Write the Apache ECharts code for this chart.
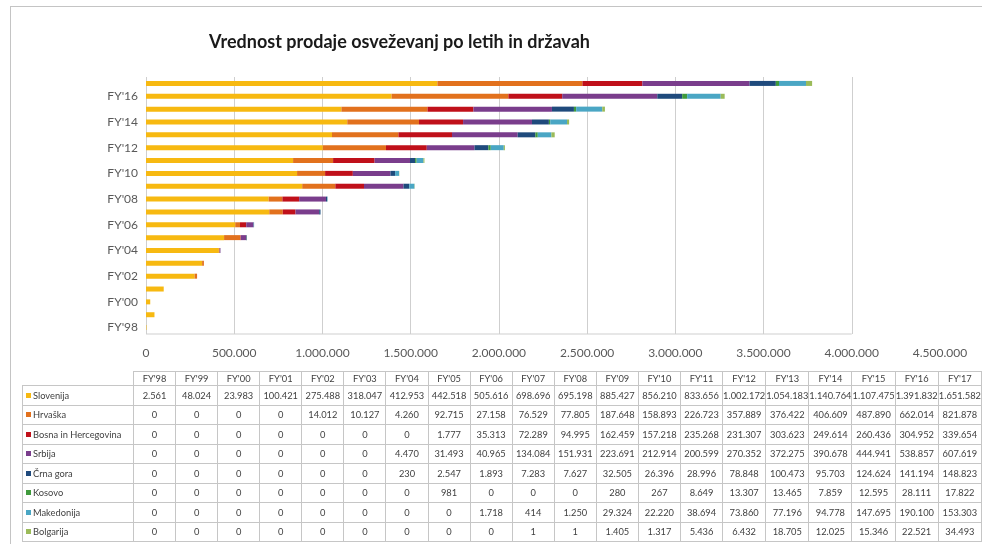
<!DOCTYPE html>
<html>
<head>
<meta charset="utf-8">
<script src="https://cdn.jsdelivr.net/npm/echarts@6.0.0/dist/echarts.min.js"></script>
<style>
	* {
		margin: 0;
		padding: 0;
	}
	body {
		width: 982px;
		height: 544px;
		overflow: hidden;
		background: #fff;
		font-family: Lato, "Liberation Sans", sans-serif;
	}
	.frame {
		position: absolute;
		left: 10px;
		top: 6px;
		width: 1000px;
		height: 600px;
		border: 1px solid #c4c4c4;
	}
	#main {
		position: absolute;
		left: 0;
		top: 0;
		width: 982px;
		height: 544px;
	}
	#tbl {
		position: absolute;
		left: 22px;
		top: 371px;
		border-collapse: collapse;
		table-layout: fixed;
		font-size: 9.3px;
		color: #404040;
	}
	#tbl td {
		border: 1px solid #c6c6c6;
		height: 18.5px;
		text-align: center;
		white-space: nowrap;
		overflow: hidden;
		text-overflow: clip;
	}
	#tbl tr.head td {
		height: 13px;
	}
	#tbl td.name {
		text-align: left;
		padding-left: 3px;
	}
	#tbl td.blank {
		border: none;
	}
	.key {
		display: inline-block;
		width: 5px;
		height: 5px;
		margin-right: 2px;
		vertical-align: 1px;
	}
</style>
</head>
<body>
<div class="frame"></div>
<div id="main"></div>
<table id="tbl"></table>
<script>
	// leta (kategorije)
	var years = ["FY'98", "FY'99", "FY'00", "FY'01", "FY'02", "FY'03", "FY'04", "FY'05", "FY'06", "FY'07",
		"FY'08", "FY'09", "FY'10", "FY'11", "FY'12", "FY'13", "FY'14", "FY'15", "FY'16", "FY'17"];

	var countries = ['Slovenija', 'Hrvaška', 'Bosna in Hercegovina', 'Srbija', 'Črna gora', 'Kosovo', 'Makedonija', 'Bolgarija'];
	var colors = ['#f7b911', '#e2711d', '#c0101a', '#7a3d8c', '#1f4a7c', '#3f9a3c', '#4aa6c4', '#9bbb59'];

	var slovenija = [2561, 48024, 23983, 100421, 275488, 318047, 412953, 442518, 505616, 698696,
		695198, 885427, 856210, 833656, 1002172, 1054183, 1140764, 1107475, 1391832, 1651582];
	var hrvaska = [0, 0, 0, 0, 14012, 10127, 4260, 92715, 27158, 76529,
		77805, 187648, 158893, 226723, 357889, 376422, 406609, 487890, 662014, 821878];
	var bosna = [0, 0, 0, 0, 0, 0, 0, 1777, 35313, 72289,
		94995, 162459, 157218, 235268, 231307, 303623, 249614, 260436, 304952, 339654];
	var srbija = [0, 0, 0, 0, 0, 0, 4470, 31493, 40965, 134084,
		151931, 223691, 212914, 200599, 270352, 372275, 390678, 444941, 538857, 607619];
	var crnaGora = [0, 0, 0, 0, 0, 0, 230, 2547, 1893, 7283,
		7627, 32505, 26396, 28996, 78848, 100473, 95703, 124624, 141194, 148823];
	var kosovo = [0, 0, 0, 0, 0, 0, 0, 981, 0, 0,
		0, 280, 267, 8649, 13307, 13465, 7859, 12595, 28111, 17822];
	var makedonija = [0, 0, 0, 0, 0, 0, 0, 0, 1718, 414,
		1250, 29324, 22220, 38694, 73860, 77196, 94778, 147695, 190100, 153303];
	var bolgarija = [0, 0, 0, 0, 0, 0, 0, 0, 0, 1,
		1, 1405, 1317, 5436, 6432, 18705, 12025, 15346, 22521, 34493];

	var values = [slovenija, hrvaska, bosna, srbija, crnaGora, kosovo, makedonija, bolgarija];

	var axisMax = 4500000;
	var axisStep = 500000;
	var frameMax = 4000000; // okvir risalne ploskve se konča pri 4 mio

	function fmt(v) {
		return String(v).replace(/\B(?=(\d{3})+(?!\d))/g, '.');
	}

	var series = [];
	countries.forEach(function(name, i) {
		series.push({
			name: name,
			type: 'bar',
			stack: 'skupaj',
			barWidth: 5,
			itemStyle: { color: colors[i] },
			data: values[i]
		});
	});

	var chart = echarts.init(document.getElementById('main'));
	chart.setOption({
		animation: false,
		title: {
			text: 'Vrednost prodaje osveževanj po letih in državah',
			left: 204,
			top: 28,
			textStyle: {
				fontFamily: 'Lato',
				fontWeight: 'bold',
				fontSize: 18,
				color: '#1a1a1a'
			}
		},
		grid: {
			left: 146,
			right: 42,
			top: 77,
			bottom: 210
		},
		xAxis: {
			type: 'value',
			min: 0,
			max: axisMax,
			interval: axisStep,
			axisLine: { show: false },
			axisTick: { show: false },
			axisLabel: {
				margin: 13,
				fontFamily: 'Lato',
				fontSize: 12,
				color: '#595959',
				formatter: function(v) { return fmt(v); }
			},
			splitLine: {
				show: true,
				showMaxLine: false,
				lineStyle: { color: '#cfcfcf', width: 1 }
			}
		},
		yAxis: {
			type: 'category',
			data: years,
			axisLine: { show: false },
			axisTick: { show: false },
			axisLabel: {
				interval: 1,
				margin: 8,
				fontFamily: 'Lato',
				fontSize: 12,
				color: '#595959'
			}
		},
		series: series
	});

	// spodnja črta okvirja od 0 do 4.000.000
	var p0 = chart.convertToPixel({ xAxisIndex: 0 }, 0);
	var p1 = chart.convertToPixel({ xAxisIndex: 0 }, frameMax);
	var yBottom = chart.getHeight() - 210;
	chart.setOption({
		graphic: [{
			type: 'line',
			shape: { x1: p0, y1: yBottom, x2: p1, y2: yBottom },
			style: { stroke: '#cfcfcf', lineWidth: 1 }
		}]
	});

	// tabela s podatki
	var tbl = document.getElementById('tbl');
	var html = '<colgroup><col style="width:111px">';
	years.forEach(function() { html += '<col style="width:42.1px">'; });
	html += '</colgroup>';
	html += '<tr class="head"><td class="blank"></td>';
	years.forEach(function(y) { html += '<td>' + y + '</td>'; });
	html += '</tr>';
	countries.forEach(function(name, i) {
		html += '<tr><td class="name"><span class="key" style="background:' + colors[i] + '"></span>' + name + '</td>';
		values[i].forEach(function(v) { html += '<td>' + fmt(v) + '</td>'; });
		html += '</tr>';
	});
	tbl.innerHTML = html;
</script>
</body>
</html>
